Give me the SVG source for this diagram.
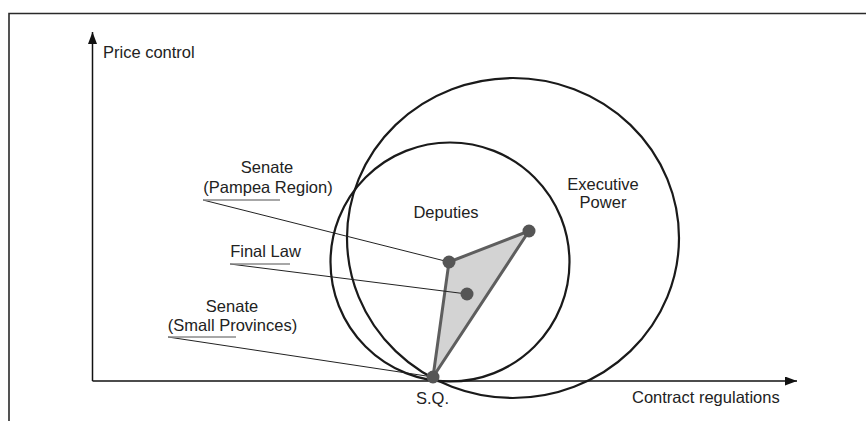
<svg xmlns="http://www.w3.org/2000/svg" width="866" height="421" viewBox="0 0 866 421">
<style>
text{font-family:"Liberation Sans",Arial,sans-serif;font-size:16.5px;fill:#222}
.c{text-anchor:middle}
.axis{stroke:#111;stroke-width:1.5;fill:none}
.ring{stroke:#1a1a1a;stroke-width:2.2;fill:none}
.lead{stroke:#222;stroke-width:1;fill:none}
.ul{stroke:#8a8a8a;stroke-width:1.5}
.pt{fill:#555}
</style>
<defs>
<marker id="ah" markerWidth="12" markerHeight="9" refX="12" refY="4.5" orient="auto" markerUnits="userSpaceOnUse">
<path d="M0,0 L12,4.5 L0,9 Z" fill="#111"/>
</marker>
</defs>
<rect width="866" height="421" fill="#fff"/>
<path d="M9,421 V13.5 H866" fill="none" stroke="#2a2a2a" stroke-width="1.6"/>
<g id="axes">
<line class="axis" x1="92.5" y1="381" x2="92.5" y2="32" marker-end="url(#ah)"/>
<line class="axis" x1="92.5" y1="381" x2="797" y2="381" marker-end="url(#ah)"/>
<text x="103" y="58">Price control</text>
<text x="632" y="403">Contract regulations</text>
</g>
<g id="executive">
<ellipse class="ring" cx="513" cy="238" rx="166" ry="160"/>
<text class="c" x="603" y="190">Executive</text>
<text class="c" x="603" y="208">Power</text>
</g>
<g id="deputies">
<circle class="ring" cx="450" cy="262" r="119.5"/>
<text class="c" x="446" y="218">Deputies</text>
</g>
<g id="triangle">
<polygon points="433,377 449,262 529,231" fill="#d3d3d3" stroke="#5e5e5e" stroke-width="3" stroke-linejoin="round"/>
</g>
<g id="connectors">
<line class="lead" x1="203" y1="200" x2="449" y2="262"/>
<line class="lead" x1="230" y1="264" x2="467" y2="294"/>
<line class="lead" x1="168" y1="337" x2="433" y2="377"/>
</g>
<g id="senate-pampea">
<text class="c" x="267" y="173">Senate</text>
<text class="c" x="268" y="193">(Pampea Region)</text>
<line class="ul" x1="203" y1="200" x2="280" y2="200"/>
</g>
<g id="final-law">
<text class="c" x="265.5" y="257">Final Law</text>
<line class="ul" x1="230" y1="264" x2="290" y2="264"/>
</g>
<g id="senate-small">
<text class="c" x="232" y="312">Senate</text>
<text class="c" x="232.5" y="331">(Small Provinces)</text>
<line class="ul" x1="168" y1="337" x2="236" y2="337"/>
</g>
<g id="points">
<circle class="pt" cx="449" cy="262" r="6.5"/>
<circle class="pt" cx="529" cy="231" r="6.5"/>
<circle class="pt" cx="467" cy="294" r="6.5"/>
<circle class="pt" cx="433" cy="377" r="6.5"/>
</g>
<g id="sq">
<text class="c" x="432.5" y="404">S.Q.</text>
</g>
</svg>
